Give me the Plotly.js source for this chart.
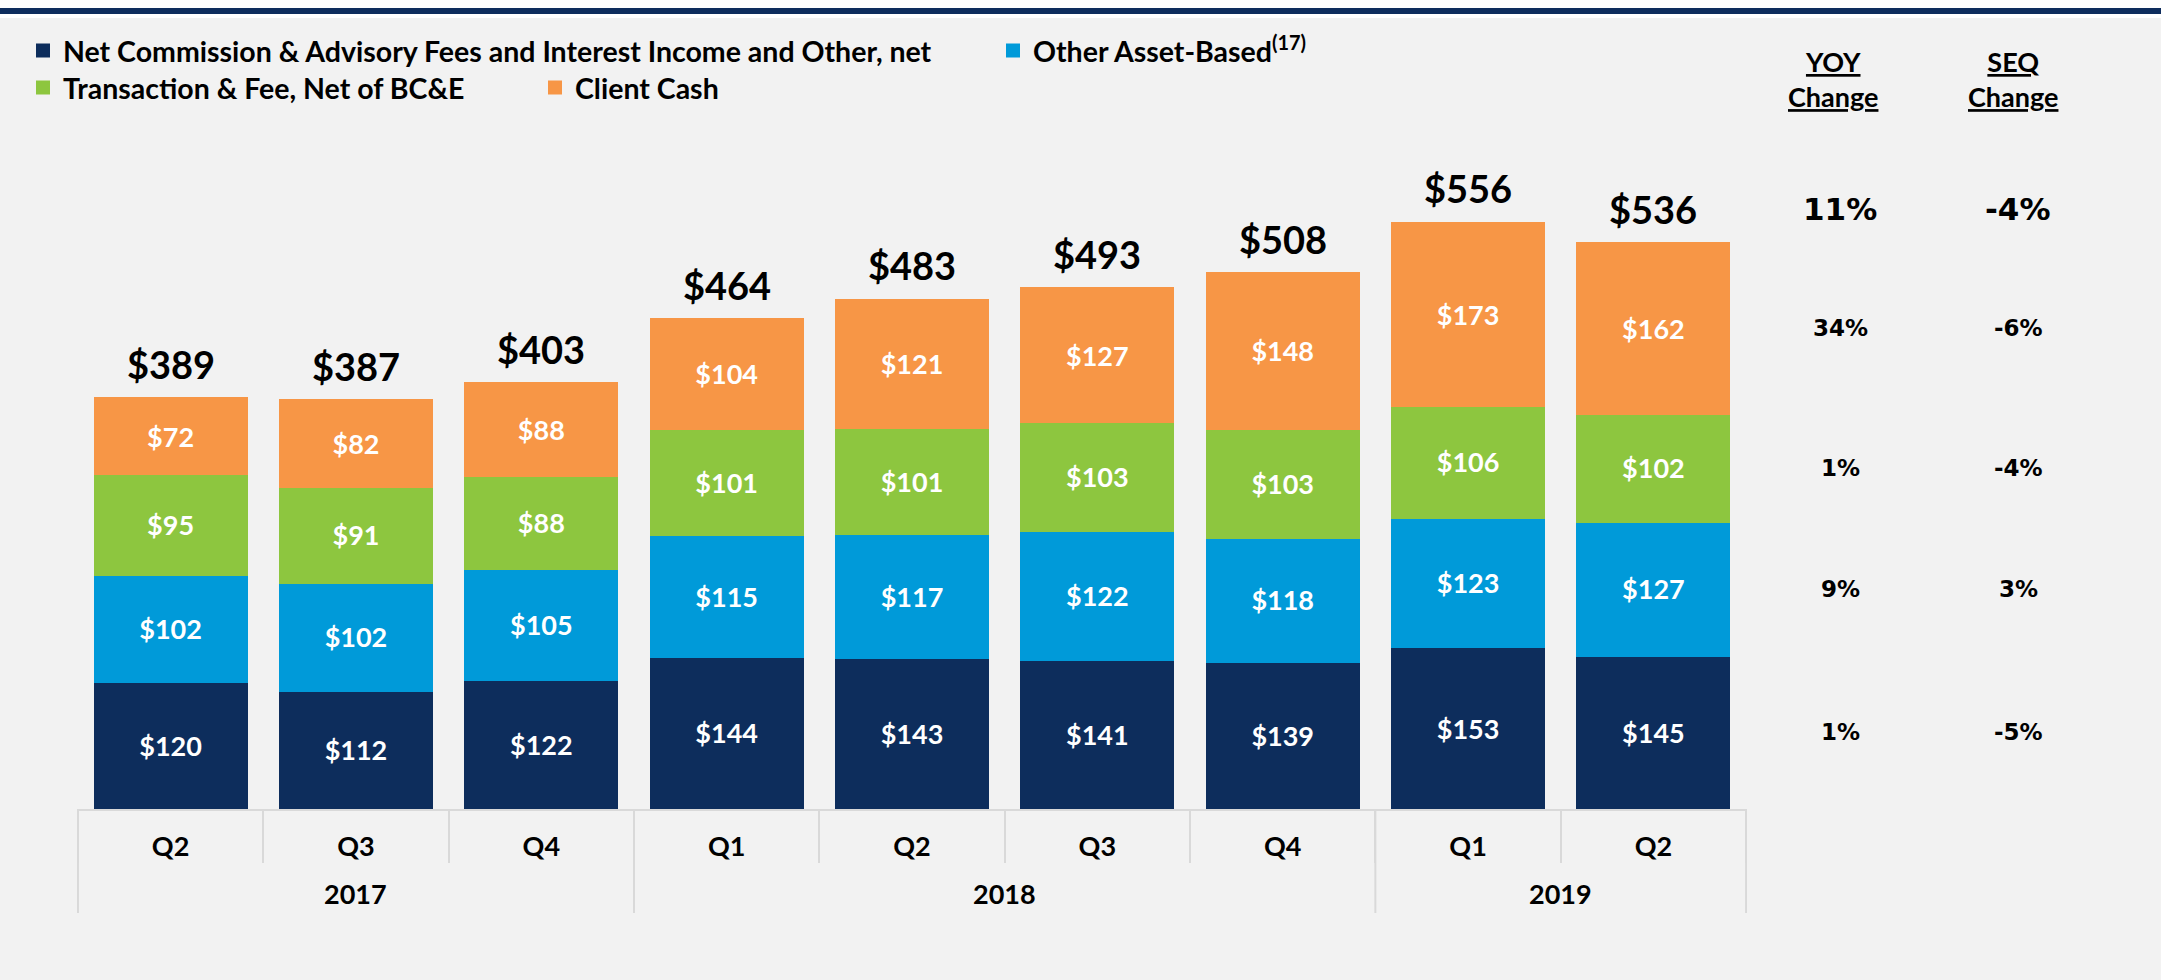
<!DOCTYPE html>
<html><head><meta charset="utf-8">
<script src="https://cdn.plot.ly/plotly-3.0.1.min.js"></script>
<style>
html,body{margin:0;padding:0;background:#f2f2f2;overflow:hidden;}
#topband{position:absolute;left:0;top:0;width:2161px;height:18px;background:#ffffff;z-index:5;}
#topline{position:absolute;left:0;top:8px;width:2161px;height:6px;background:#0e2d5d;}
#chart{position:absolute;left:0;top:0;width:2161px;height:980px;}
</style></head><body>
<div id="chart"></div>
<div id="topband"><div id="topline"></div></div>
<script>
// ---- data ----
const years = ['2017','2017','2017','2018','2018','2018','2018','2019','2019'];
const quarters = ['Q2','Q3','Q4','Q1','Q2','Q3','Q4','Q1','Q2'];
const netCommission = [120,112,122,144,143,141,139,153,145];
const otherAssetBased = [102,102,105,115,117,122,118,123,127];
const transactionFee = [95,91,88,101,101,103,103,106,102];
const clientCash = [72,82,88,104,121,127,148,173,162];
const totals = [389,387,403,464,483,493,508,556,536];
const seriesNames = [
  'Net Commission & Advisory Fees and Interest Income and Other, net',
  'Other Asset-Based<sup>(17)</sup>',
  'Transaction & Fee, Net of BC&E',
  'Client Cash'
];
// change columns, bottom segment to top segment
const yoyChange = ['1%','9%','1%','34%'];
const seqChange = ['-5%','3%','-4%','-6%'];
const totalYoy = '11%';
const totalSeq = '-4%';
const changeHeaders = ['<u>YOY</u><br><u>Change</u>', '<u>SEQ</u><br><u>Change</u>'];

// ---- style ----
const colors = ['#0d2d5c','#009ad9','#8dc63f','#f79646'];
const FONT = 'Lato, "Liberation Sans", sans-serif';
const PCT_FONT = '"DejaVu Sans", Verdana, sans-serif';
const L = 77, R = 1747, T = 150, B = 809;
const px2x = p => (p - L) / (R - L);
const py2y = p => (B - p) / (B - T);

const seriesData = [netCommission, otherAssetBased, transactionFee, clientCash];
const legendIds = ['legend','legend2','legend3','legend4'];
const xKeys = years.map((y, i) => y + ' ' + quarters[i]);

const traces = seriesData.map((vals, k) => ({
  type: 'bar',
  x: xKeys,
  y: vals,
  name: seriesNames[k],
  legend: legendIds[k],
  marker: {color: colors[k], line: {color: colors[k], width: 2}},
  texttemplate: '$%{y}',
  textposition: 'inside',
  insidetextanchor: 'middle',
  textangle: 0,
  constraintext: 'none',
  textfont: {family: FONT, size: 27, color: '#ffffff', weight: 'bold'},
  hoverinfo: 'skip'
}));

const annotations = [];
const shapes = [];
totals.forEach((t, i) => {
  annotations.push({
    x: xKeys[i], y: t, xref: 'x', yref: 'y', text: '$' + t, showarrow: false,
    xanchor: 'center', yanchor: 'middle', yshift: 34,
    font: {family: FONT, size: 38, color: '#000', weight: 'bold'}
  });
});

// year groups under the quarter labels
const groups = [];
years.forEach((y, i) => {
  const g = groups[groups.length - 1];
  if (g && g.year === y) g.end = i; else groups.push({year: y, start: i, end: i});
});
const divLine = {color: '#d9d9d9', width: 2};
groups.forEach(g => {
  annotations.push({x: (g.start + g.end) / 2, y: py2y(893), xref: 'x', yref: 'paper', text: g.year,
    xanchor: 'center', yanchor: 'middle', showarrow: false,
    font: {family: FONT, size: 27, color: '#000', weight: 'bold'}});
  shapes.push({type: 'line', xref: 'x', yref: 'paper', x0: g.start - 0.5, x1: g.start - 0.5,
    y0: py2y(810), y1: py2y(913), line: divLine});
});
const lastG = groups[groups.length - 1];
shapes.push({type: 'line', xref: 'x', yref: 'paper', x0: lastG.end + 0.5, x1: lastG.end + 0.5,
  y0: py2y(810), y1: py2y(913), line: divLine});

// change columns aligned to segments of the last bar
const last = totals.length - 1;
let base = 0;
const pctFont = s => ({family: PCT_FONT, size: s, color: '#000', weight: 'bold'});
seriesData.forEach((vals, k) => {
  const mid = base + vals[last] / 2;
  base += vals[last];
  annotations.push({x: px2x(1840), y: mid, xref: 'paper', yref: 'y', text: yoyChange[k],
    xanchor: 'center', yanchor: 'middle', showarrow: false, font: pctFont(23)});
  annotations.push({x: px2x(2018), y: mid, xref: 'paper', yref: 'y', text: seqChange[k],
    xanchor: 'center', yanchor: 'middle', showarrow: false, font: pctFont(23)});
});
annotations.push({x: px2x(1840), y: totals[last], yshift: 34, xref: 'paper', yref: 'y', text: totalYoy,
  xanchor: 'center', yanchor: 'middle', showarrow: false, font: pctFont(31)});
annotations.push({x: px2x(2018), y: totals[last], yshift: 34, xref: 'paper', yref: 'y', text: totalSeq,
  xanchor: 'center', yanchor: 'middle', showarrow: false, font: pctFont(31)});
annotations.push({x: px2x(1833), y: py2y(79), xref: 'paper', yref: 'paper', text: changeHeaders[0],
  xanchor: 'center', yanchor: 'middle', showarrow: false,
  font: {family: FONT, size: 27, color: '#000', weight: 'bold'}});
annotations.push({x: px2x(2013), y: py2y(79), xref: 'paper', yref: 'paper', text: changeHeaders[1],
  xanchor: 'center', yanchor: 'middle', showarrow: false,
  font: {family: FONT, size: 27, color: '#000', weight: 'bold'}});

const legFont = {family: FONT, size: 28.5, color: '#000', weight: 'bold'};
const mkLegend = (px, py) => ({
  x: px2x(px), y: py2y(py), xanchor: 'left', yanchor: 'middle',
  orientation: 'v', bgcolor: 'rgba(0,0,0,0)', borderwidth: 0, font: legFont
});

const layout = {
  width: 2161, height: 980,
  margin: {l: L, r: 2161 - R, t: T, b: 980 - B, pad: 0},
  paper_bgcolor: '#f2f2f2',
  plot_bgcolor: '#f2f2f2',
  barmode: 'stack',
  bargap: 0.18,
  showlegend: true,
  legend: mkLegend(23, 51),
  legend2: mkLegend(993, 51),
  legend3: mkLegend(23, 88),
  legend4: mkLegend(535, 88),
  xaxis: {
    type: 'category',
    range: [-0.505, 8.505],
    tickmode: 'array', tickvals: xKeys, ticktext: quarters,
    showline: true, linecolor: '#d9d9d9', linewidth: 2,
    ticks: 'outside', tickson: 'boundaries', ticklen: 52, tickcolor: '#d9d9d9', tickwidth: 2,
    ticklabelstandoff: 13,
    tickfont: {family: FONT, size: 27, color: '#000', weight: 'bold'},
    showgrid: false, zeroline: false, fixedrange: true
  },
  yaxis: {range: [0, 624], visible: false, showgrid: false, zeroline: false, fixedrange: true},
  annotations: annotations,
  shapes: shapes
};

Plotly.newPlot('chart', traces, layout, {displayModeBar: false, staticPlot: true});
</script>
</body></html>
